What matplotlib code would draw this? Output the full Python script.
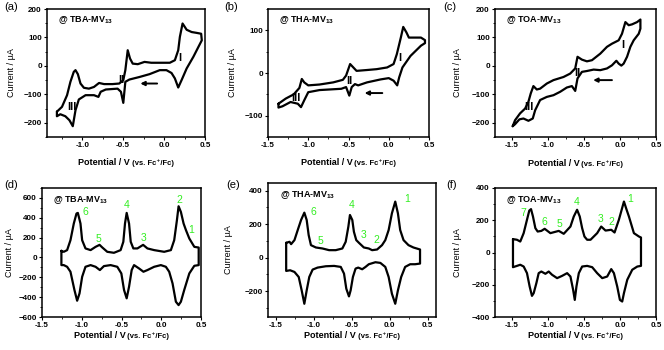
import matplotlib
matplotlib.use("Agg")
import matplotlib.pyplot as plt
from matplotlib.ticker import MultipleLocator, FormatStrFormatter

plt.rcParams['font.family'] = ['Liberation Sans', 'DejaVu Sans']
plt.rcParams['font.weight'] = 'bold'
plt.rcParams['mathtext.fontset'] = 'custom'
plt.rcParams['mathtext.rm'] = 'Liberation Sans:bold'
plt.rcParams['mathtext.bf'] = 'Liberation Sans:bold'
plt.rcParams['mathtext.default'] = 'bf'

# ---------------- data (potential V vs Fc+/Fc, current uA) ----------------
# (a) TBA-MV13, full scan: forward (upper) and reverse (lower) branches
a_up_V = [-1.309, -1.247, -1.185, -1.144, -1.103, -1.082, -1.053, -1.021, -0.979, -0.918,
          -0.856, -0.794, -0.733, -0.630, -0.547, -0.498, -0.473, -0.444, -0.416, -0.383,
          -0.321, -0.239, -0.156, 0.070, 0.132, 0.173, 0.193, 0.226, 0.276, 0.337, 0.399, 0.453]
a_up_I = [-161, -144, -103, -56, -21, -15, -29, -62, -77, -80,
          -74, -60, -64, -64, -62, -50, -15, 55, 26, 8,
          6, 14, 11, 11, 20, 55, 102, 149, 127, 119, 116, 113]
a_dn_V = [0.461, 0.420, 0.358, 0.276, 0.214, 0.173, 0.132, 0.091, 0.029, -0.053,
          -0.177, -0.300, -0.424, -0.473, -0.498, -0.527, -0.568, -0.712, -0.774, -0.802,
          -0.856, -0.959, -1.041, -1.082, -1.115, -1.156, -1.206, -1.267, -1.309]
a_dn_I = [90, 67, 32, -9, -50, -76, -44, -25, -15, -15,
          -29, -39, -48, -56, -130, -91, -80, -83, -91, -109,
          -103, -103, -118, -156, -212, -191, -177, -170, -177]

# (b) THA-MV13
b_up_V = [-1.37, -1.28, -1.18, -1.11, -1.08, -1.05, -1.00, -0.86, -0.69, -0.57, -0.53, -0.48,
          -0.44, -0.40, -0.27, -0.15, -0.02, 0.06, 0.10, 0.15, 0.18, 0.22, 0.25, 0.40, 0.45]
b_up_I = [-72, -60, -50, -35, -14, -22, -29, -27, -22, -16, -6, 21,
          13, 5, 7, 9, 13, 21, 44, 83, 108, 95, 83, 83, 77]
b_dn_V = [0.45, 0.40, 0.27, 0.17, 0.13, 0.105, 0.06, 0.0, -0.10, -0.27, -0.38, -0.42,
          -0.46, -0.49, -0.53, -0.59, -0.86, -1.00, -1.05, -1.09, -1.13, -1.22, -1.32, -1.37]
b_dn_I = [70, 64, 40, 13, -10, -29, -18, -12, -15, -22, -29, -26,
          -33, -53, -33, -37, -40, -45, -64, -80, -72, -68, -78, -81]

# (c) TOA-MV13
c_up_V = [-1.485, -1.452, -1.383, -1.313, -1.267, -1.235, -1.198, -1.151, -1.105, -1.012,
          -0.920, -0.781, -0.688, -0.619, -0.587, -0.526, -0.457, -0.387, -0.272, -0.179,
          -0.110, -0.063, -0.017, 0.029, 0.076, 0.122, 0.168, 0.238, 0.284]
c_up_I = [-212, -191, -167, -150, -126, -97, -71, -83, -80, -62,
          -50, -39, -27, -9, 32, 22, 16, 20, 43, 67,
          78, 84, 90, 113, 154, 143, 146, 154, 163]
c_dn_V = [0.284, 0.261, 0.191, 0.145, 0.099, 0.052, 0.020, -0.017, -0.049, -0.110,
          -0.179, -0.272, -0.364, -0.457, -0.526, -0.587, -0.619, -0.665, -0.735, -0.827,
          -0.920, -1.012, -1.105, -1.174, -1.207, -1.267, -1.336, -1.392, -1.452, -1.485]
c_dn_I = [131, 113, 90, 67, 32, 8, 1, 8, 18, 2,
          -9, -15, -13, -18, -21, -44, -88, -71, -76, -91,
          -103, -109, -120, -156, -185, -193, -185, -188, -205, -212]

# (d) TBA-MV13, differential pulse
d_up_V = [-1.256, -1.226, -1.184, -1.142, -1.100, -1.066, -1.049, -1.016, -0.995, -0.953,
          -0.889, -0.826, -0.776, -0.742, -0.679, -0.595, -0.511, -0.477, -0.456, -0.435,
          -0.405, -0.384, -0.351, -0.300, -0.228, -0.174, -0.089, 0.037, 0.121, 0.163,
          0.197, 0.218, 0.247, 0.281, 0.311, 0.353, 0.416, 0.471]
d_up_I = [67, 57, 74, 174, 342, 443, 449, 342, 174, 91,
          74, 107, 127, 101, 57, 47, 74, 158, 342, 449,
          342, 158, 91, 91, 127, 91, 74, 57, 74, 174,
          375, 516, 459, 342, 275, 191, 107, 100]
d_dn_V = [0.471, 0.416, 0.353, 0.289, 0.247, 0.218, 0.184, 0.142, 0.100, 0.058,
          -0.005, -0.089, -0.174, -0.224, -0.279, -0.342, -0.372, -0.405, -0.435, -0.468,
          -0.502, -0.553, -0.637, -0.721, -0.772, -0.826, -0.889, -0.953, -0.995, -1.028,
          -1.058, -1.092, -1.142, -1.184, -1.226, -1.256]
d_dn_I = [-77, -84, -161, -328, -446, -480, -446, -261, -144, -94,
          -77, -94, -127, -144, -111, -77, -127, -295, -412, -328,
          -161, -94, -77, -87, -127, -94, -77, -94, -195, -362,
          -436, -328, -144, -94, -77, -77]

# (e) THA-MV13
e_up_V = [-1.361, -1.317, -1.296, -1.252, -1.209, -1.165, -1.122, -1.091, -1.065, -1.035,
          -0.970, -0.883, -0.796, -0.709, -0.622, -0.578, -0.543, -0.522, -0.491, -0.470,
          -0.439, -0.404, -0.339, -0.274, -0.230, -0.165, -0.100, -0.057, -0.013, 0.030,
          0.074, 0.109, 0.139, 0.183, 0.248, 0.313, 0.400]
e_up_I = [88, 94, 80, 104, 164, 224, 268, 224, 134, 74,
          60, 54, 44, 44, 54, 94, 184, 254, 224, 154,
          104, 88, 60, 54, 44, 48, 74, 104, 164, 264,
          334, 264, 164, 104, 74, 60, 48]
e_dn_V = [0.400, 0.335, 0.270, 0.204, 0.152, 0.109, 0.074, 0.030, -0.013, -0.057,
          -0.122, -0.187, -0.274, -0.317, -0.361, -0.413, -0.448, -0.483, -0.513, -0.535,
          -0.570, -0.600, -0.643, -0.730, -0.839, -0.948, -1.013, -1.057, -1.091, -1.122,
          -1.157, -1.196, -1.252, -1.309, -1.361]
e_dn_I = [-36, -40, -40, -56, -116, -196, -276, -216, -116, -56,
          -32, -28, -40, -56, -70, -60, -66, -116, -196, -232,
          -186, -96, -56, -50, -52, -60, -72, -116, -196, -276,
          -196, -116, -86, -76, -80]

# (f) TOA-MV13
f_up_V = [-1.481, -1.426, -1.380, -1.333, -1.287, -1.255, -1.231, -1.204, -1.171, -1.139,
          -1.088, -1.042, -0.963, -0.847, -0.778, -0.685, -0.639, -0.593, -0.556, -0.523,
          -0.491, -0.454, -0.407, -0.315, -0.259, -0.199, -0.120, -0.074, -0.014, 0.056,
          0.093, 0.125, 0.194, 0.264, 0.292]
f_up_I = [83, 79, 68, 120, 203, 260, 269, 223, 151, 130,
          134, 147, 120, 134, 116, 161, 223, 265, 223, 151,
          99, 79, 79, 120, 161, 136, 141, 124, 203, 316,
          265, 223, 120, 99, 93]
f_dn_V = [0.292, 0.241, 0.171, 0.102, 0.056, 0.032, 0.0, -0.037, -0.083, -0.120,
          -0.176, -0.245, -0.315, -0.384, -0.454, -0.523, -0.569, -0.602, -0.625, -0.648,
          -0.685, -0.731, -0.801, -0.870, -0.940, -0.986, -1.032, -1.088, -1.125, -1.157,
          -1.194, -1.218, -1.250, -1.287, -1.333, -1.380, -1.426, -1.481]
f_dn_I = [-83, -87, -107, -169, -252, -304, -294, -211, -128, -103,
          -149, -159, -128, -91, -83, -87, -128, -211, -294, -231,
          -149, -128, -145, -159, -138, -118, -132, -118, -128, -190,
          -252, -269, -211, -128, -87, -76, -83, -91]

panel_letters = ['(a)', '(b)', '(c)', '(d)', '(e)', '(f)']
samples = ['TBA', 'THA', 'TOA', 'TBA', 'THA', 'TOA']
x_tick_values = [-1.5, -1.0, -0.5, 0.0, 0.5]
y_ticks_a = [-200, -100, 0, 100, 200]
y_ticks_b = [-100, 0, 100]
y_ticks_c = [-200, -100, 0, 100, 200]
y_ticks_d = [-600, -400, -200, 0, 200, 400, 600]
y_ticks_e = [-200, 0, 200, 400]
y_ticks_f = [-400, -200, 0, 200, 400]
x_label_main = 'Potential / V'
x_label_ref = ' (vs. Fc\u207a/Fc)'
y_label = 'Current / \u00b5A'

# ---------------- layout ----------------
W, H = 664, 350
fig = plt.figure(figsize=(W / 100, H / 100), dpi=100)
renderer = fig.canvas.get_renderer()


def px_axes(l, t, r, b):
    return fig.add_axes([l / W, 1 - b / H, (r - l) / W, (b - t) / H])


specs = [
    dict(box=(47, 9, 205, 137), xlim=(-1.43, 0.5), ylim=(-250, 200), yt=y_ticks_a, ymin=50,
         up=(a_up_V, a_up_I), dn=(a_dn_V, a_dn_I), ylab=31, xlab=28, letter=(4, 7)),
    dict(box=(268, 9, 429, 137), xlim=(-1.5, 0.5), ylim=(-150, 150), yt=y_ticks_b, ymin=50,
         up=(b_up_V, b_up_I), dn=(b_dn_V, b_dn_I), ylab=31, xlab=28, letter=(224, 7)),
    dict(box=(495, 9, 656, 137), xlim=(-1.73, 0.5), ylim=(-250, 200), yt=y_ticks_c, ymin=50,
         up=(c_up_V, c_up_I), dn=(c_dn_V, c_dn_I), ylab=33, xlab=29, letter=(443, 7)),
    dict(box=(42, 188, 201, 317), xlim=(-1.5, 0.5), ylim=(-600, 700), yt=y_ticks_d, ymin=100,
         up=(d_up_V, d_up_I), dn=(d_dn_V, d_dn_I), ylab=28, xlab=21, letter=(4, 185)),
    dict(box=(268, 183, 436, 317), xlim=(-1.6, 0.61), ylim=(-355, 445), yt=y_ticks_e, ymin=100,
         up=(e_up_V, e_up_I), dn=(e_dn_V, e_dn_I), ylab=35, xlab=21, letter=(226, 185)),
    dict(box=(495, 188, 656, 317), xlim=(-1.73, 0.5), ylim=(-400, 400), yt=y_ticks_f, ymin=100,
         up=(f_up_V, f_up_I), dn=(f_dn_V, f_dn_I), ylab=33, xlab=21, letter=(446, 185)),
]

axes = []
for i, s in enumerate(specs):
    l, t, r, b = s['box']
    ax = px_axes(l, t, r, b)
    axes.append(ax)
    V = list(s['up'][0]) + list(s['dn'][0]) + [s['up'][0][0]]
    I = list(s['up'][1]) + list(s['dn'][1]) + [s['up'][1][0]]
    ax.plot(V, I, color='black', lw=1.6, solid_joinstyle='round', solid_capstyle='round')
    ax.set_xlim(*s['xlim'])
    ax.set_ylim(*s['ylim'])
    ax.set_xticks([v for v in x_tick_values if s['xlim'][0] - 1e-6 <= v <= s['xlim'][1] + 1e-6])
    ax.set_yticks(s['yt'])
    ax.xaxis.set_minor_locator(MultipleLocator(0.25))
    ax.yaxis.set_minor_locator(MultipleLocator(s['ymin']))
    ax.tick_params(which='major', direction='out', length=2.5, width=0.8, labelsize=5.8, pad=1.2)
    ax.tick_params(which='minor', direction='out', length=1.5, width=0.6)
    for sp in ax.spines.values():
        sp.set_linewidth(1.1)
    ax.xaxis.set_major_formatter(FormatStrFormatter('%.1f'))
    ax.set_ylabel(y_label, fontsize=6.5)
    ax.yaxis.set_label_coords(-s['ylab'] / (r - l), 0.5)
    ax.text(0.07, 0.91, '@ %s-MV$_{13}$' % samples[i], transform=ax.transAxes,
            fontsize=6.5, fontweight='bold', va='center', ha='left')
    lx, ly = s['letter']
    fig.text(lx / W, 1 - ly / H, panel_letters[i], fontsize=8, fontweight='normal',
             va='center', ha='left')
    # x axis label in two sizes, centred under the axes
    ybase = 1 - (b + s['xlab']) / H
    t1 = fig.text(0, ybase, x_label_main, fontsize=6.5, ha='left', va='baseline', fontweight='bold')
    t2 = fig.text(0, ybase, x_label_ref, fontsize=5.5, ha='left', va='baseline', fontweight='bold')
    w1 = t1.get_window_extent(renderer).width
    w2 = t2.get_window_extent(renderer).width
    x0 = (l + r) / 2 - (w1 + w2) / 2
    t1.set_x(x0 / W)
    t2.set_x((x0 + w1) / W)

# roman numerals and arrows (top row)
romans = [
    [('I', 0.193, 26), ('II', -0.52, -48), ('III', -1.13, -146)],
    [('I', 0.14, 36), ('II', -0.49, -18), ('III', -1.15, -58)],
    [('I', 0.038, 73), ('II', -0.587, -25), ('III', -1.26, -146)],
]
arrows = [((-0.085, -62), (-0.29, -62)), ((-0.08, -47), (-0.30, -47)), ((-0.11, -50), (-0.37, -50))]
for k in range(3):
    ax = axes[k]
    for txt, x, y in romans[k]:
        ax.text(x, y, txt, fontsize=8, fontweight='bold', ha='center', va='center')
    (x0, y0), (x1, y1) = arrows[k]
    ax.annotate('', xy=(x1, y1), xytext=(x0, y0),
                arrowprops=dict(arrowstyle='-|>', lw=1.4, color='black', mutation_scale=6,
                                shrinkA=0, shrinkB=0))

# green peak numbers (bottom row)
green = '#33ee22'
peak_labels = [
    [('6', -0.953, 459), ('5', -0.784, 191), ('4', -0.435, 526), ('3', -0.224, 201),
     ('2', 0.226, 583), ('1', 0.374, 275)],
    [('6', -1.0, 270), ('5', -0.904, 98), ('4', -0.504, 314), ('3', -0.348, 134),
     ('2', -0.178, 104), ('1', 0.226, 348)],
    [('7', -1.34, 248), ('6', -1.042, 192), ('5', -0.838, 178), ('4', -0.593, 312),
     ('3', -0.269, 209), ('2', -0.116, 192), ('1', 0.148, 331)],
]
for k in range(3):
    ax = axes[k + 3]
    for txt, x, y in peak_labels[k]:
        ax.text(x, y, txt, fontsize=7.5, fontweight='normal', color=green,
                ha='center', va='center')

fig.savefig('out.png', dpi=100)
